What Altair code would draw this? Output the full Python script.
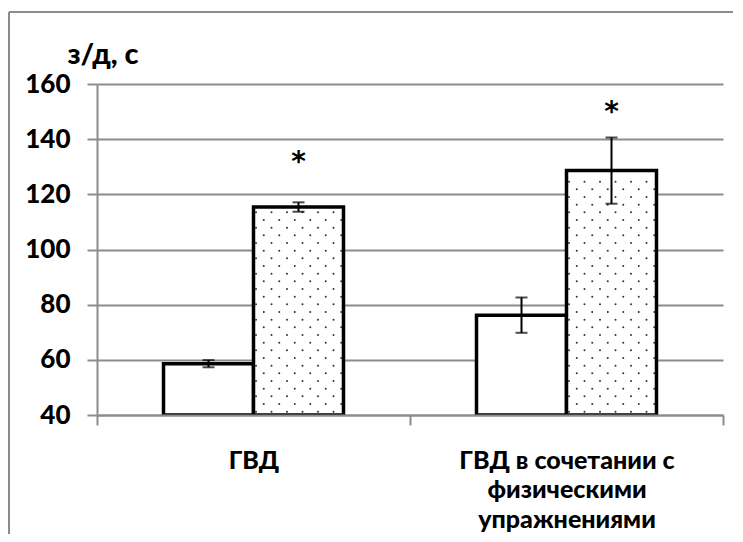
import altair as alt
import pandas as pd

# ---- data ----
groups = ["ГВД", "ГВД в сочетании с\nфизическими\nупражнениями"]
series = ["контроль", "опыт"]
control_vals = [58.6, 76.2]
control_err = [1.3, 6.4]
exp_vals = [115.4, 128.6]
exp_err = [1.7, 12.0]
star_y = [128.3, 146.7]          # position of the "*" marks (data units)
y_ticks = [40, 60, 80, 100, 120, 140, 160]

FONT = "Lato"
WEIGHT = 900
GRAY = "#8c8c8c"
Y0, Y1 = y_ticks[0], y_ticks[-1]
PAD = 0.739                      # outer padding of the sub-bands inside a group

rows = []
for i, g in enumerate(groups):
    for s, v, e in ((series[0], control_vals[i], control_err[i]),
                    (series[1], exp_vals[i], exp_err[i])):
        rows.append(dict(group=g, series=s, value=v, lo=v - e, hi=v + e, base=Y0))
df = pd.DataFrame(rows)

stars = pd.DataFrame(dict(group=groups, series=[series[1]] * 2, value=star_y))

# dotted fill texture of the second bars (derived from the bar heights)
ROW_STEP = 2.78
COL_STEP = 15.5 / 90
dot_rows = []
for g, v in zip(groups, exp_vals):
    k = 0
    yy = Y0 + 1.2
    while yy < v - 1.3:
        xx = (2.5 if k % 2 == 0 else 10.25) / 90
        while xx < 88 / 90:
            dot_rows.append(dict(group=g, dx=1 + xx, value=yy))
            xx += COL_STEP
        k += 1
        yy = Y0 + 1.2 + k * ROW_STEP
dots_df = pd.DataFrame(dot_rows)

x_axis = alt.Axis(
    title=None, labelExpr="split(datum.label, '\\n')", labelFont=FONT,
    labelFontSize=25, labelFontWeight=WEIGHT, labelColor="black",
    labelLineHeight=29.5, labelLimit=400, labelAngle=0, labelPadding=23,
    labelBaseline="top", labelOverlap=False, tickBand="extent", tickSize=10,
    tickColor=GRAY, tickWidth=2, domainColor=GRAY, domainWidth=2,
    grid=False, zindex=1,
)
y_axis = alt.Axis(
    values=y_ticks, title="з/д, с", titleAngle=0, titleX=-30, titleY=-21,
    titleAlign="left", titleBaseline="alphabetic", titleFont=FONT,
    titleFontSize=29, titleFontWeight=WEIGHT, titleColor="black",
    labelFont=FONT, labelFontSize=26, labelFontWeight=WEIGHT,
    labelColor="black", labelPadding=17, tickSize=10, tickColor=GRAY,
    tickWidth=2, domainColor=GRAY, domainWidth=2, gridColor=GRAY,
    gridWidth=2, zindex=0,
)

xscale = alt.Scale(paddingInner=0, paddingOuter=0)
xoff_scale = alt.Scale(paddingInner=0, paddingOuter=PAD)
yscale = alt.Scale(domain=[Y0, Y1], nice=False, zero=False)

X = alt.X("group:N", sort=groups, scale=xscale, axis=x_axis)
XO = alt.XOffset("series:N", sort=series, scale=xoff_scale)

bars = alt.Chart(df).mark_bar(
    fill="white", stroke="black", strokeWidth=3.5, clip=True
).encode(x=X, xOffset=XO, y=alt.Y("value:Q", scale=yscale, axis=y_axis), y2="base:Q")

dots = alt.Chart(dots_df).mark_circle(size=4, color="#333333", opacity=1).encode(
    x=X,
    xOffset=alt.XOffset("dx:Q", scale=alt.Scale(domain=[-PAD, 2 + PAD], nice=False, zero=False)),
    y=alt.Y("value:Q", scale=yscale, axis=y_axis),
)

err = alt.Chart(df).mark_rule(color="black", strokeWidth=2).encode(
    x=X, xOffset=XO, y=alt.Y("lo:Q", scale=yscale, axis=y_axis), y2="hi:Q")
cap_lo = alt.Chart(df).mark_tick(color="black", thickness=2, size=12).encode(
    x=X, xOffset=XO, y=alt.Y("lo:Q", scale=yscale, axis=y_axis))
cap_hi = alt.Chart(df).mark_tick(color="black", thickness=2, size=12).encode(
    x=X, xOffset=XO, y=alt.Y("hi:Q", scale=yscale, axis=y_axis))
star_marks = alt.Chart(stars).mark_text(
    text="*", font="DejaVu Sans", fontSize=28, fontWeight="bold", color="black",
    baseline="alphabetic", align="center"
).encode(x=X, xOffset=XO, y=alt.Y("value:Q", scale=yscale, axis=y_axis))

frame_df = pd.DataFrame({"k": [0]})
frame_v = alt.Chart(frame_df).mark_rule(color=GRAY, strokeWidth=2).encode(
    x=alt.value(-88), y=alt.value(-72), y2=alt.value(470))
frame_h = alt.Chart(frame_df).mark_rule(color=GRAY, strokeWidth=2).encode(
    x=alt.value(-88), x2=alt.value(660), y=alt.value(-72))

chart = alt.layer(
    bars, dots, alt.layer(err, cap_lo, cap_hi, star_marks), frame_v, frame_h
).resolve_scale(xOffset="independent").properties(
    width=626, height=331,
    autosize=alt.AutoSizeParams(type="none"),
    padding={"left": 89, "top": 76, "right": 10, "bottom": 119},
    background="white",
).configure_view(stroke=None)

chart.save("out.html", embed_options={"renderer": "svg", "actions": False})
